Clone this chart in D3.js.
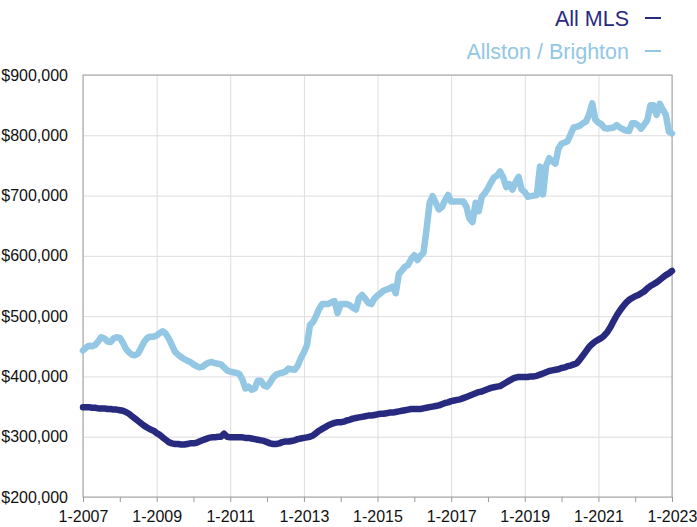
<!DOCTYPE html>
<html>
<head>
<meta charset="utf-8">
<script src="https://cdn.jsdelivr.net/npm/d3@7"></script>
<style>
  body { margin: 0; background: #fff; }
  svg { font-family: Helvetica, Arial, "Liberation Sans", sans-serif; }
</style>
</head>
<body>
<script>
// monthly median prices, Jan 2007 .. Jan 2023 (in $1000)
const startMonth = new Date(2007, 0, 1);

const allMLS = [
  349, 349, 349, 348, 348, 347, 347, 347, 346, 346, 345, 345, // 2007
  344, 343, 341, 338, 334, 330, 326, 322, 318, 315, 312, 310, // 2008
  306, 303, 299, 295, 291, 289, 288, 288, 287, 287, 288, 289, // 2009
  289, 290, 292, 294, 296, 298, 299, 299, 300, 300, 305, 300, // 2010
  299, 299, 299, 299, 299, 298, 298, 297, 296, 295, 294, 293, // 2011
  291, 289, 288, 288, 289, 291, 292, 292, 293, 294, 296, 297, // 2012
  298, 299, 300, 302, 306, 310, 313, 316, 319, 321, 323, 324, // 2013
  324, 325, 327, 328, 330, 331, 332, 333, 334, 335, 335, 336, // 2014
  337, 338, 338, 339, 340, 340, 341, 342, 343, 344, 345, 346, // 2015
  346, 346, 346, 347, 348, 349, 350, 351, 352, 354, 356, 357, // 2016
  359, 360, 361, 362, 364, 366, 368, 370, 372, 374, 375, 377, // 2017
  379, 381, 382, 383, 384, 387, 390, 393, 396, 398, 399, 399, // 2018
  399, 399, 400, 400, 401, 403, 405, 407, 409, 410, 411, 412, // 2019
  414, 415, 417, 418, 420, 422, 428, 435, 442, 449, 454, 458, // 2020
  461, 464, 468, 474, 482, 492, 501, 509, 516, 522, 527, 530, // 2021
  533, 535, 538, 541, 546, 550, 553, 556, 560, 564, 568, 571, // 2022
  575                                                          // 2023
];

const allstonBrighton = [
  443, 448, 451, 450, 452, 458, 465, 463, 458, 457, 463, 465, // 2007
  464, 456, 446, 440, 436, 435, 438, 448, 458, 464, 466, 466, // 2008
  468, 472, 475, 471, 463, 452, 441, 436, 432, 429, 426, 424, // 2009
  420, 417, 415, 416, 420, 423, 424, 422, 421, 420, 415, 410, // 2010
  408, 407, 406, 404, 395, 380, 383, 378, 380, 393, 393, 385, // 2011
  383, 390, 398, 403, 405, 406, 408, 413, 412, 411, 418, 430, // 2012
  440, 452, 485, 490, 500, 512, 520, 520, 520, 523, 525, 505, // 2013
  520, 520, 520, 518, 514, 511, 530, 535, 529, 522, 520, 529, // 2014
  534, 538, 542, 544, 546, 549, 538, 570, 576, 582, 585, 595, // 2015
  601, 593, 600, 605, 643, 688, 699, 688, 677, 681, 692, 701, // 2016
  690, 690, 690, 690, 690, 682, 662, 656, 688, 674, 698, 704, // 2017
  712, 722, 730, 733, 740, 730, 714, 719, 710, 722, 731, 710, // 2018
  706, 698, 699, 700, 701, 748, 702, 750, 762, 757, 753, 778, // 2019
  786, 788, 790, 802, 813, 814, 816, 820, 823, 835, 853, 826, // 2020
  821, 818, 812, 811, 812, 813, 817, 813, 810, 808, 807, 820, // 2021
  820, 816, 811, 818, 825, 850, 850, 834, 852, 843, 834, 806, // 2022
  803                                                          // 2023
];

const seriesNames = ["All MLS", "Allston / Brighton"];
const seriesColors = ["#282a80", "#93c7e3"];
const yTicks = [200000, 300000, 400000, 500000, 600000, 700000, 800000, 900000];
const xLabelYears = [2007, 2009, 2011, 2013, 2015, 2017, 2019, 2021, 2023];

const width = 697, height = 527;
const margin = { top: 75, right: 25, bottom: 30, left: 83 };

const svg = d3.select("body")
  .append("svg")
  .attr("width", width)
  .attr("height", height);

const x = d3.scaleTime()
  .domain([startMonth, new Date(2023, 0, 1)])
  .range([margin.left, width - margin.right]);

const y = d3.scaleLinear()
  .domain([200000, 900000])
  .range([height - margin.bottom, margin.top]);

const plotW = width - margin.right - margin.left;
const plotH = height - margin.bottom - margin.top;

// gridlines
svg.append("g")
  .attr("transform", `translate(${margin.left},0)`)
  .call(d3.axisLeft(y).tickValues(yTicks).tickSize(-plotW).tickFormat(""))
  .call(g => g.select(".domain").remove())
  .call(g => g.selectAll("line").attr("stroke", "#dedede"));

svg.append("g")
  .attr("transform", `translate(0,${height - margin.bottom})`)
  .call(d3.axisBottom(x).tickValues(xLabelYears.map(v => new Date(v, 0, 1))).tickSize(-plotH).tickFormat(""))
  .call(g => g.select(".domain").remove())
  .call(g => g.selectAll("line").attr("stroke", "#dedede"));

// frame
svg.append("rect")
  .attr("x", margin.left)
  .attr("y", margin.top)
  .attr("width", plotW)
  .attr("height", plotH)
  .attr("fill", "none")
  .attr("stroke", "#a0a0a0")
  .attr("stroke-width", 1);

// axes
const yearTicks = d3.range(2007, 2024).map(v => new Date(v, 0, 1));
svg.append("g")
  .attr("transform", `translate(0,${height - margin.bottom})`)
  .call(d3.axisBottom(x)
    .tickValues(yearTicks)
    .tickSize(5)
    .tickPadding(9)
    .tickFormat(d => xLabelYears.includes(d.getFullYear()) ? "1-" + d.getFullYear() : ""))
  .call(g => g.select(".domain").remove())
  .call(g => g.selectAll("line").attr("stroke", "#9a9a9a"))
  .call(g => g.selectAll("text").attr("font-size", 16).attr("fill", "#111"));

svg.append("g")
  .attr("transform", `translate(${margin.left},0)`)
  .call(d3.axisLeft(y).tickValues(yTicks).tickSize(0).tickPadding(15).tickFormat(d3.format("$,")))
  .call(g => g.select(".domain").remove())
  .call(g => g.selectAll("text").attr("font-size", 16).attr("fill", "#111"));

// lines
const line = d3.line()
  .x((d, i) => x(d3.timeMonth.offset(startMonth, i)))
  .y(d => y(d * 1000));

[allstonBrighton, allMLS].forEach((s, k) => {
  svg.append("path")
    .datum(s)
    .attr("fill", "none")
    .attr("stroke", k === 0 ? seriesColors[1] : seriesColors[0])
    .attr("stroke-width", 6.5)
    .attr("stroke-linejoin", "round")
    .attr("stroke-linecap", "round")
    .attr("d", line);
});

// legend
const legend = svg.append("g");
seriesNames.forEach((name, i) => {
  const ly = 26 + i * 33;
  legend.append("text")
    .attr("x", 629)
    .attr("y", ly)
    .attr("text-anchor", "end")
    .attr("font-size", 21.5)
    .attr("fill", seriesColors[i])
    .text(name);
  legend.append("line")
    .attr("x1", 645)
    .attr("x2", 661)
    .attr("y1", ly - 8)
    .attr("y2", ly - 8)
    .attr("stroke", seriesColors[i])
    .attr("stroke-width", 2);
});
</script>
</body>
</html>
